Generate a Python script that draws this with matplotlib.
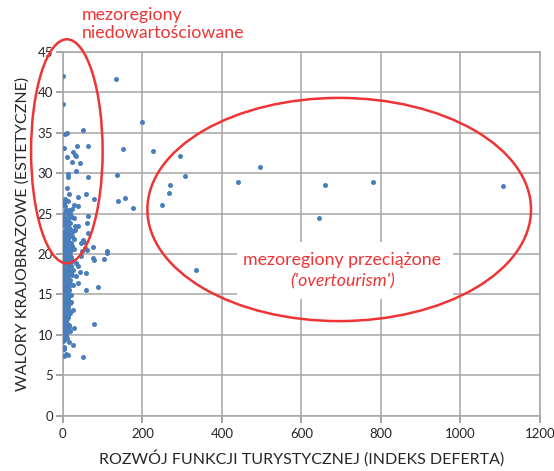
import matplotlib
matplotlib.use("Agg")
import matplotlib.pyplot as plt
from matplotlib.patches import Ellipse, Rectangle

# Mezoregiony: rozwój funkcji turystycznej (indeks Deferta) vs walory krajobrazowe
deferta_high = [134.5, 199.5, 150, 226, 294.5, 136, 306, 441, 495, 270, 266, 139,
                157, 177, 250.5, 660.5, 779, 1108, 644.5, 335.5]
walory_high = [41.6, 36.3, 33.0, 32.7, 32.1, 29.8, 29.7, 28.9, 30.7, 28.5, 27.6, 26.6,
               26.9, 25.7, 26.0, 28.55, 28.9, 28.35, 24.5, 18.0]

deferta_low = [1, 1, 10, 5, 51.5, 3, 63, 35.5, 10, 26, 31, 34, 23, 43.5, 32, 13, 14, 63,
               11.5, 16, 58.5, 38, 78, 4.5, 8, 12.5, 2, 28.5, 39, 24, 16, 7, 1, 62, 24, 9,
               2, 61, 5, 30, 39, 16, 31, 64, 8, 20.5, 3.5, 27.5, 50.5, 54, 15, 45, 7, 55,
               75.5, 61, 112, 112, 47, 29, 3, 12.5, 104, 75.5, 78, 45, 19.5, 6, 33, 38, 15,
               3, 26, 42.5, 58.5, 11.5, 22, 3.5, 32, 18, 37, 7, 26, 2, 88, 58.5, 15, 6,
               20.5, 0.5, 11.5, 4.5, 21.5, 0.5, 12.5, 25, 5, 17, 2, 10.5, 78, 4.5, 16, 27.5,
               1, 9, 18.5, 0.5, 11.5, 16, 26.5, 3.5, 2, 9, 3.5, 13, 50]
walory_low = [42.0, 38.6, 35.0, 34.8, 35.3, 33.1, 33.3, 33.3, 32.0, 32.6, 32.2, 32.1,
              31.4, 31.3, 30.2, 29.9, 29.5, 29.5, 28.2, 27.4, 27.4, 27.1, 26.8, 26.8,
              26.7, 26.5, 26.3, 26.1, 25.9, 25.6, 25.4, 25.3, 25.0, 24.7, 24.6, 24.2,
              24.0, 23.8, 23.7, 23.5, 23.5, 23.2, 23.0, 22.6, 22.8, 22.4, 22.1, 21.9,
              21.7, 21.5, 21.5, 21.3, 21.1, 20.7, 20.9, 20.5, 20.4, 20.1, 20.4, 20.6,
              20.3, 20.0, 19.4, 19.5, 19.2, 19.7, 19.6, 19.2, 18.9, 18.5, 18.5, 18.2,
              18.0, 17.8, 17.6, 17.6, 17.4, 17.2, 17.3, 16.8, 16.4, 16.4, 16.2, 15.9,
              15.9, 15.5, 15.6, 15.2, 14.9, 14.7, 14.5, 14.1, 14.0, 13.8, 13.5, 13.1,
              13.1, 12.7, 12.3, 11.9, 11.4, 11.5, 11.2, 10.9, 10.8, 10.4, 10.5, 10.2,
              9.6, 9.1, 8.7, 8.5, 8.2, 7.6, 7.4, 7.5, 7.3]

deferta_core = [2, 5, 8, 3, 6, 11, 2, 7, 13, 4, 9, 15, 1, 6, 11, 18, 3, 8, 14, 2, 5, 10,
                16, 1, 7, 12, 19, 4, 9, 14, 2, 6, 11, 17, 3, 8, 13, 20, 5, 10, 1, 15, 7,
                12, 4, 18, 9, 2, 14, 6, 21, 11, 3, 16, 8, 13, 5, 19, 10, 2, 15, 7, 4, 12,
                9, 6, 3, 1, 4, 7, 10, 13, 2, 5, 8, 11, 14, 3, 6, 9, 12, 1, 4, 7, 10, 13,
                16, 2, 5, 8, 11, 14, 3, 6, 9, 12, 15, 1, 4, 7, 10, 2, 5, 8, 11, 3, 6, 9,
                1, 4, 7, 10, 13, 17, 22, 25, 19, 23, 14, 20, 24, 18, 12, 22, 27, 17]
walory_core = [9.4, 9.8, 10.1, 10.6, 11.0, 11.3, 11.7, 12.0, 12.2, 12.5, 12.8, 13.0,
               13.3, 13.5, 13.7, 13.9, 14.2, 14.3, 14.6, 14.9, 15.1, 15.3, 15.5, 15.7,
               15.9, 16.1, 16.3, 16.5, 16.7, 16.9, 17.0, 17.3, 17.5, 17.7, 17.9, 18.1,
               18.3, 18.5, 18.7, 18.9, 19.1, 19.3, 19.5, 19.8, 20.0, 20.2, 20.5, 20.7,
               20.9, 21.2, 21.4, 21.6, 21.9, 22.1, 22.3, 22.6, 22.9, 23.1, 23.4, 23.6,
               23.9, 24.3, 24.6, 24.9, 25.4, 25.9, 26.2, 12.1, 11.6, 11.9, 12.4, 12.9,
               13.2, 13.6, 13.9, 14.4, 14.8, 15.0, 15.4, 15.8, 16.0, 16.4, 16.8, 17.1,
               17.6, 18.0, 18.4, 18.8, 19.0, 19.4, 19.9, 20.3, 20.8, 21.1, 21.7, 22.0,
               22.5, 10.3, 10.9, 11.4, 12.6, 13.4, 14.0, 14.7, 15.2, 16.2, 16.6, 17.4,
               10.0, 11.1, 12.3, 13.8, 14.5, 18.6, 19.2, 22.8, 23.8, 21.0, 24.1, 17.8,
               22.2, 19.7, 16.0, 20.6, 24.4, 25.1]

deferta_dense = [1, 4, 7, 10, 13, 16, 3, 6, 9, 12, 15, 2, 5, 8, 11, 14, 17, 1, 4, 7, 10,
                 13, 3, 6, 9, 12, 15, 18, 2, 5, 8, 11, 14, 1, 4, 7, 10, 13, 16, 3, 6, 9,
                 12, 2, 5, 8, 11, 14, 17, 1, 4, 7, 10, 13, 3, 6, 9, 12, 15, 2, 5, 8, 11,
                 14, 1, 4, 7, 10, 13, 16, 3, 6, 9, 12, 2, 5, 8, 11, 14, 20]
walory_dense = [9.2, 9.5, 9.9, 10.4, 10.7, 11.0, 11.3, 11.8, 12.0, 12.4, 12.7, 13.0,
                13.2, 13.4, 13.6, 13.8, 14.1, 14.3, 14.5, 14.7, 14.9, 15.1, 15.3, 15.5,
                15.7, 15.9, 16.1, 16.3, 16.5, 16.7, 16.9, 17.1, 17.3, 17.5, 17.7, 17.9,
                18.1, 18.3, 18.5, 18.7, 18.9, 19.1, 19.3, 19.5, 19.7, 19.9, 20.1, 20.3,
                20.5, 20.7, 20.9, 21.1, 21.3, 21.5, 21.7, 21.9, 22.1, 22.3, 22.5, 22.7,
                22.9, 23.1, 23.3, 23.5, 23.7, 23.9, 24.1, 24.3, 24.5, 24.7, 10.1, 10.9,
                11.6, 12.2, 13.7, 14.4, 15.6, 16.6, 18.0, 19.0]

x_ticks = [0, 200, 400, 600, 800, 1000, 1200]
y_ticks = [0, 5, 10, 15, 20, 25, 30, 35, 40, 45]

DOT = "#4a7ebb"
RED = "#ee3434"
GRID = "#a6a6a6"
plt.rcParams["font.family"] = ["Lato", "DejaVu Sans"]

fig = plt.figure(figsize=(5.54, 4.71), dpi=100)
ax = fig.add_axes([0.1135, 0.1174, 0.8612, 0.7726])

xs = deferta_high + deferta_low + deferta_core + deferta_dense
ys = walory_high + walory_low + walory_core + walory_dense
ax.scatter(xs, ys, s=13, color=DOT, linewidths=0, zorder=3)

ax.set_xlim(0, 1200)
ax.set_ylim(0, 45)
ax.set_xticks(x_ticks)
ax.set_yticks(y_ticks)
ax.grid(True, color=GRID, linewidth=1.1, zorder=0)
ax.set_axisbelow(True)
for sp in ax.spines.values():
    sp.set_color(GRID)
    sp.set_linewidth(1.1)
ax.tick_params(axis="both", colors="#8c8c8c", length=5, width=1.1,
               labelcolor="#262626", labelsize=9.5)
ax.tick_params(axis="x", pad=4)
ax.tick_params(axis="y", pad=2)

ax.set_xlabel("ROZWÓJ FUNKCJI TURYSTYCZNEJ (INDEKS DEFERTA)", fontsize=11.5,
              color="#262626", labelpad=7)
ax.set_ylabel("WALORY KRAJOBRAZOWE (ESTETYCZNE)", fontsize=11.5,
              color="#262626", labelpad=6)

# Highlighted groups of regions
ax.add_patch(Ellipse((10, 32.7), 180, 27.7, fill=False, edgecolor=RED,
                     linewidth=1.8, clip_on=False, zorder=4))
ax.add_patch(Ellipse((695, 25.5), 965, 27.6, fill=False, edgecolor=RED,
                     linewidth=1.8, clip_on=False, zorder=4))

fig.text(82 / 554, 1 - 24 / 471, "mezoregiony\nniedowartościowane", color=RED,
         fontsize=12.8, ha="left", va="center", linespacing=1.2)

# white label box over the grid
ax.add_patch(Rectangle((437, 14.4), 543, 7.1, facecolor="white", edgecolor="none",
                       zorder=2))
ax.text(703, 19.25, "mezoregiony przeciążone", color=RED, fontsize=12.8,
        ha="center", va="center", zorder=5)
ax.text(703, 16.65, "('overtourism')", color=RED, fontsize=12.8, style="italic",
        ha="center", va="center", zorder=5)

fig.savefig("out.png", dpi=100)
